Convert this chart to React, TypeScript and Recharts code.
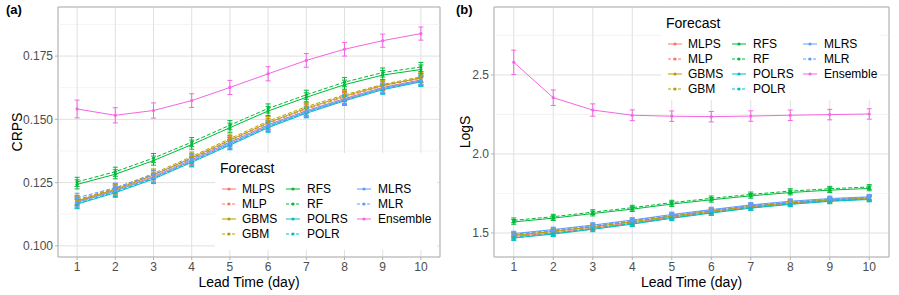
import React from "react"
import { LineChart, Line, XAxis, YAxis, CartesianGrid, ErrorBar, ReferenceLine, ReferenceArea } from "recharts"

const leadDays = [1, 2, 3, 4, 5, 6, 7, 8, 9, 10]
const models = ["MLPS", "MLP", "GBMS", "GBM", "RFS", "RF", "POLRS", "POLR", "MLRS", "MLR", "Ensemble"]
const colors = ["#F8766D", "#F8766D", "#B79F00", "#B79F00", "#00BA38", "#00BA38", "#00BFC4", "#00BFC4", "#619CFF", "#619CFF", "#F564E3"]
const dashed = [false, true, false, true, false, true, false, true, false, true, false]

// CRPS by lead time
const crpsMLPS = [0.1175, 0.122, 0.1274, 0.134, 0.1409, 0.1478, 0.1534, 0.1582, 0.1626, 0.1656]
const crpsMLP = [0.118, 0.1225, 0.128, 0.1346, 0.1415, 0.1484, 0.154, 0.1588, 0.1632, 0.1662]
const crpsGBMS = [0.1178, 0.1223, 0.128, 0.1348, 0.1418, 0.1487, 0.1544, 0.1592, 0.1634, 0.1664]
const crpsGBM = [0.1182, 0.1228, 0.1286, 0.1353, 0.1424, 0.1493, 0.155, 0.1597, 0.1638, 0.1668]
const crpsRFS = [0.1243, 0.1283, 0.1337, 0.14, 0.1467, 0.1533, 0.1587, 0.1637, 0.1675, 0.1697]
const crpsRF = [0.1253, 0.1293, 0.1347, 0.141, 0.1477, 0.1543, 0.1597, 0.1647, 0.1685, 0.1707]
const crpsPOLRS = [0.1165, 0.121, 0.1264, 0.133, 0.1398, 0.1467, 0.1524, 0.1573, 0.1617, 0.1648]
const crpsPOLR = [0.1168, 0.1213, 0.1267, 0.1333, 0.1401, 0.147, 0.1527, 0.1576, 0.162, 0.1651]
const crpsMLRS = [0.1172, 0.1217, 0.127, 0.1336, 0.1404, 0.1473, 0.1529, 0.1577, 0.1621, 0.1652]
const crpsMLR = [0.119, 0.123, 0.1281, 0.1344, 0.141, 0.1478, 0.1533, 0.1581, 0.1625, 0.1655]
const crpsEnsemble = [0.1541, 0.1516, 0.1535, 0.1574, 0.1626, 0.168, 0.1733, 0.1777, 0.1811, 0.1839]
const crpsErr = [0.0018, 0.0018, 0.0018, 0.0018, 0.0018, 0.0018, 0.0018, 0.0018, 0.0018, 0.0018]
const crpsEnsErr = [0.0035, 0.003, 0.003, 0.0027, 0.0028, 0.0028, 0.0027, 0.0027, 0.0026, 0.0026]

// LogS by lead time
const logsMLPS = [1.478, 1.5, 1.53, 1.563, 1.6, 1.632, 1.663, 1.687, 1.705, 1.717]
const logsMLP = [1.483, 1.507, 1.536, 1.569, 1.605, 1.637, 1.667, 1.691, 1.709, 1.721]
const logsGBMS = [1.485, 1.51, 1.539, 1.571, 1.607, 1.639, 1.669, 1.692, 1.71, 1.722]
const logsGBM = [1.488, 1.513, 1.542, 1.574, 1.609, 1.641, 1.671, 1.694, 1.712, 1.724]
const logsRFS = [1.57, 1.594, 1.623, 1.651, 1.683, 1.71, 1.735, 1.756, 1.771, 1.782]
const logsRF = [1.58, 1.603, 1.632, 1.66, 1.692, 1.719, 1.744, 1.765, 1.78, 1.791]
const logsPOLRS = [1.468, 1.493, 1.523, 1.556, 1.593, 1.626, 1.657, 1.681, 1.7, 1.712]
const logsPOLR = [1.472, 1.497, 1.527, 1.56, 1.596, 1.629, 1.66, 1.684, 1.703, 1.715]
const logsMLRS = [1.496, 1.522, 1.55, 1.582, 1.617, 1.648, 1.678, 1.701, 1.718, 1.729]
const logsMLR = [1.492, 1.518, 1.546, 1.578, 1.613, 1.644, 1.674, 1.697, 1.714, 1.725]
const logsEnsemble = [2.58, 2.356, 2.278, 2.245, 2.239, 2.236, 2.24, 2.245, 2.249, 2.253]
const logsErr = [0.015, 0.015, 0.015, 0.015, 0.015, 0.015, 0.015, 0.015, 0.015, 0.015]
const logsEnsErr = [0.077, 0.049, 0.039, 0.034, 0.033, 0.033, 0.033, 0.033, 0.033, 0.033]

const crpsTicks = [0.1, 0.125, 0.15, 0.175]
const crpsMinor = [0.1125, 0.1375, 0.1625, 0.1875]
const logsTicks = [1.5, 2.0, 2.5]
const logsMinor = [1.75, 2.25, 2.75]

const crpsSeries = [crpsMLPS, crpsMLP, crpsGBMS, crpsGBM, crpsRFS, crpsRF, crpsPOLRS, crpsPOLR, crpsMLRS, crpsMLR, crpsEnsemble]
const logsSeries = [logsMLPS, logsMLP, logsGBMS, logsGBM, logsRFS, logsRF, logsPOLRS, logsPOLR, logsMLRS, logsMLR, logsEnsemble]

const FONT = '"Liberation Sans", Arial, sans-serif'

function buildRows(series: number[][], err: number[], ensErr: number[]) {
  return leadDays.map((d, i) => {
    const row: any = { x: d }
    models.forEach((m, k) => {
      row[m] = series[k][i]
      row[m + "_e"] = m === "Ensemble" ? ensErr[i] : err[i]
    })
    return row
  })
}

function YTitle(props: any) {
  const vb = props.viewBox || {}
  const cy = vb.y + vb.height / 2
  return (
    <text x={props.cx} y={cy} transform={`rotate(-90 ${props.cx} ${cy})`} textAnchor="middle"
      dominantBaseline="central" fontSize={14} fill="#000" fontFamily={FONT}>{props.text}</text>
  )
}

function LegendBox({ left, top, width, height }: { left: number; top: number; width: number; height: number }) {
  const colKey = [2, 66, 137]
  const colLabel = [22, 87, 158]
  return (
    <div style={{ position: "absolute", left, top, width, height, background: "#fff", fontFamily: FONT }}>
      <div style={{ position: "absolute", left: 5, top: 15, transform: "translateY(-50%)", fontSize: 14, lineHeight: "16px", whiteSpace: "nowrap" }}>Forecast</div>
      {models.map((m, k) => {
        const col = Math.floor(k / 4)
        const row = k % 4
        const cy = 36 + row * 15
        return (
          <React.Fragment key={m}>
            <svg style={{ position: "absolute", left: 5 + colKey[col], top: cy - 5 }} width={14} height={10}>
              <line x1={0} x2={14} y1={5} y2={5} stroke={colors[k]} strokeWidth={1} strokeDasharray={dashed[k] ? "3 2" : undefined} />
              <circle cx={7} cy={5} r={1.6} fill={colors[k]} />
            </svg>
            <div style={{ position: "absolute", left: 5 + colLabel[col], top: cy, transform: "translateY(-50%)", fontSize: 12, lineHeight: "14px", whiteSpace: "nowrap" }}>{m}</div>
          </React.Fragment>
        )
      })}
    </div>
  )
}

function Panel(props: {
  left: number; width: number; series: number[][]; err: number[]; ensErr: number[]
  domain: [number, number]; ticks: number[]; minor: number[]; digits: number
  yWidth: number; yTitle: string; yTitleX: number; tag: string
  legend: { left: number; top: number; width: number; height: number }
}) {
  const rows = buildRows(props.series, props.err, props.ensErr)
  return (
    <div style={{ position: "absolute", left: props.left, top: 0, width: props.width, height: 295 }}>
      <LineChart width={props.width} height={295} data={rows} margin={{ top: 7, right: 10, bottom: 0, left: 0 }}>
        {props.minor.map((v) => (
          <ReferenceLine key={v} y={v} stroke="#ececec" strokeWidth={0.6} />
        ))}
        <CartesianGrid stroke="#e0e0e0" strokeWidth={1} />
        <ReferenceArea x1={0.5} x2={10.5} y1={props.domain[0]} y2={props.domain[1]} fill="none" fillOpacity={0} stroke="#b3b3b3" strokeWidth={1} />
        <XAxis type="number" dataKey="x" domain={[0.5, 10.5]} ticks={leadDays} allowDataOverflow
          height={38} axisLine={false} tickSize={3} tickMargin={2} tickLine={{ stroke: "#b3b3b3" }}
          tick={{ fill: "#4d4d4d", fontSize: 12, fontFamily: FONT }}
          label={{ value: "Lead Time (day)", position: "insideBottom", offset: 8, fill: "#000", fontSize: 14, fontFamily: FONT }} />
        <YAxis type="number" domain={props.domain} ticks={props.ticks} allowDataOverflow width={props.yWidth}
          axisLine={false} tickSize={3} tickMargin={2} tickLine={{ stroke: "#b3b3b3" }}
          tick={{ fill: "#4d4d4d", fontSize: 12, fontFamily: FONT }}
          tickFormatter={(v: number) => v.toFixed(props.digits)}
          label={<YTitle text={props.yTitle} cx={props.yTitleX} />} />
        {models.map((m, k) => (
          <Line key={m} type="linear" dataKey={m} stroke={colors[k]} strokeWidth={1}
            strokeDasharray={dashed[k] ? "4 2" : undefined}
            dot={{ r: 1.6, fill: colors[k], stroke: "none" }} activeDot={false} isAnimationActive={false}>
            <ErrorBar dataKey={m + "_e"} width={2.5} stroke={colors[k]} strokeWidth={1} direction="y" />
          </Line>
        ))}
      </LineChart>
      <LegendBox {...props.legend} />
      <div style={{ position: "absolute", left: 6, top: 2, fontFamily: FONT, fontWeight: "bold", fontSize: 13 }}>{props.tag}</div>
    </div>
  )
}

export default function App() {
  return (
    <div style={{ position: "absolute", left: 0, top: 0, width: 899, height: 295, background: "#fff" }}>
      <Panel left={0} width={450} series={crpsSeries} err={crpsErr} ensErr={crpsEnsErr}
        domain={[0.0956, 0.1944]} ticks={crpsTicks} minor={crpsMinor} digits={3}
        yWidth={58} yTitle="CRPS" yTitleX={17} tag="(a)"
        legend={{ left: 215, top: 153, width: 222, height: 97 }} />
      <Panel left={450} width={449} series={logsSeries} err={logsErr} ensErr={logsEnsErr}
        domain={[1.348, 2.93]} ticks={logsTicks} minor={logsMinor} digits={1}
        yWidth={44} yTitle="LogS" yTitleX={15} tag="(b)"
        legend={{ left: 211, top: 8, width: 219, height: 92 }} />
    </div>
  )
}
